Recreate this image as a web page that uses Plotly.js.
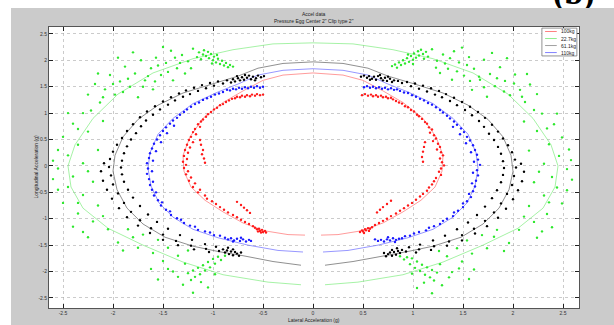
<!DOCTYPE html>
<html><head><meta charset="utf-8">
<script src="https://cdn.plot.ly/plotly-3.0.1.min.js"></script>
<style>
html,body{margin:0;padding:0;background:#fff;width:614px;height:325px;overflow:hidden;}
#panel{position:absolute;left:11px;top:8px;width:603px;height:317px;}
#lab{position:absolute;left:0;top:0;}
</style></head><body>
<svg id="lab" width="614" height="8"><text x="553" y="4" font-size="34" font-weight="bold" font-family="Liberation Serif, serif">(b)</text></svg>
<div id="panel"></div>
<script>
// ---- data (g units) ----
const seriesNames = ["100kg", "22.7kg", "61.1kg", "110kg"];
const xTicks = [-2.5, -2, -1.5, -1, -0.5, 0, 0.5, 1, 1.5, 2, 2.5];
const xTickLabels = ["-2.5", "-2", "-1.5", "-1", "-0.5", "0", "0.5", "1", "1.5", "2", "2.5"];
const yTicks = [-2.5, -2, -1.5, -1, -0.5, 0, 0.5, 1, 1.5, 2, 2.5];
const yTickLabels = ["-2.5", "-2", "-1.5", "-1", "-0.5", "0", "0.5", "1", "1.5", "2", "2.5"];

// fitted outlines (one per series), null = gap
const greenLine = [[0,2.33],[0.4,2.31],[0.8,2.2],[1.2,2.03],[1.6,1.76],[1.95,1.36],[2.2,0.9],[2.38,0.4],[2.45,0.0],[2.42,-0.4],[2.3,-0.8],[2.05,-1.18],[1.7,-1.5],[1.3,-1.82],[0.9,-2.06],[0.45,-2.2],[0.12,-2.25],[null,null],[-0.12,-2.25],[-0.45,-2.2],[-0.9,-2.06],[-1.3,-1.82],[-1.7,-1.5],[-2.05,-1.18],[-2.3,-0.8],[-2.42,-0.4],[-2.45,0.0],[-2.38,0.4],[-2.2,0.9],[-1.95,1.36],[-1.6,1.76],[-1.2,2.03],[-0.8,2.2],[-0.4,2.31],[0,2.33]];
const blackLine = [[0,1.97],[0.3,1.94],[0.55,1.85],[0.75,1.70],[1.0,1.56],[1.3,1.38],[1.55,1.15],[1.75,0.88],[1.9,0.55],[1.98,0.2],[2.0,-0.1],[1.96,-0.45],[1.86,-0.8],[1.7,-1.1],[1.48,-1.35],[1.2,-1.52],[0.95,-1.62],[0.7,-1.70],[0.4,-1.81],[0.12,-1.88],[null,null],[-0.12,-1.88],[-0.4,-1.81],[-0.7,-1.70],[-0.95,-1.62],[-1.2,-1.52],[-1.48,-1.35],[-1.7,-1.1],[-1.86,-0.8],[-1.96,-0.45],[-2.0,-0.1],[-1.98,0.2],[-1.9,0.55],[-1.75,0.88],[-1.55,1.15],[-1.3,1.38],[-1.0,1.56],[-0.75,1.70],[-0.55,1.85],[-0.3,1.94],[0,1.97]];
const blueLine = [[0,1.84],[0.3,1.81],[0.55,1.72],[0.75,1.55],[0.95,1.40],[1.2,1.18],[1.4,0.9],[1.55,0.6],[1.63,0.25],[1.65,-0.05],[1.62,-0.38],[1.54,-0.7],[1.4,-0.97],[1.2,-1.2],[0.95,-1.36],[0.65,-1.5],[0.35,-1.6],[0.1,-1.63],[null,null],[-0.1,-1.63],[-0.35,-1.6],[-0.65,-1.5],[-0.95,-1.36],[-1.2,-1.2],[-1.4,-0.97],[-1.54,-0.7],[-1.62,-0.38],[-1.65,-0.05],[-1.63,0.25],[-1.55,0.6],[-1.4,0.9],[-1.2,1.18],[-0.95,1.40],[-0.75,1.55],[-0.55,1.72],[-0.3,1.81],[0,1.84]];
const redLine = [[0,1.76],[0.3,1.72],[0.5,1.62],[0.7,1.42],[0.9,1.2],[1.1,0.9],[1.23,0.55],[1.3,0.2],[1.29,-0.1],[1.22,-0.4],[1.08,-0.65],[0.9,-0.87],[0.7,-1.08],[0.48,-1.23],[0.25,-1.3],[0.08,-1.31],[null,null],[-0.08,-1.31],[-0.25,-1.3],[-0.48,-1.23],[-0.7,-1.08],[-0.9,-0.87],[-1.08,-0.65],[-1.22,-0.4],[-1.29,-0.1],[-1.3,0.2],[-1.23,0.55],[-1.1,0.9],[-0.9,1.2],[-0.7,1.42],[-0.5,1.62],[-0.3,1.72],[0,1.76]];

// measured points, left and right clouds
const greenLeft = [[-0.80,1.88],[-0.83,1.91],[-0.85,1.87],[-0.87,1.95],[-0.89,1.90],[-0.91,1.99],[-0.93,1.93],[-0.95,2.03],[-0.97,1.96],[-0.99,2.07],[-1.00,2.00],[-1.02,2.12],[-1.04,2.04],[-1.05,2.16],[-1.07,2.08],[-1.09,2.19],[-1.10,2.11],[-1.12,2.02],[-1.14,2.15],[-1.16,2.06],[-0.96,2.10],[-1.01,1.94],
[-1.20,2.22],[-1.25,1.98],[-1.31,2.10],[-1.36,1.85],[-1.42,2.18],[-1.47,1.95],[-1.52,1.72],[-1.57,2.05],[-1.62,1.85],[-1.68,1.62],[-1.72,2.00],[-1.78,1.75],[-1.83,1.50],[-1.88,1.88],[-1.93,1.60],[-1.98,1.35],[-2.03,1.72],[-2.08,1.45],[-2.13,1.20],[-2.18,1.55],[-2.22,1.05],[-1.40,1.62],[-1.60,1.45],[-1.75,1.30],[-1.28,1.75],[-1.50,2.25],[-1.95,2.05],
[-1.22,1.85],[-1.33,1.95],[-1.45,1.78],[-1.55,1.90],[-1.65,1.70],[-1.70,1.50],[-1.85,1.65],[-1.90,1.40],[-2.00,1.55],[-2.10,1.30],[-2.15,1.75],[-2.25,1.35],[-1.38,2.05],[-1.80,2.15],[-1.58,1.60],
[-2.30,1.00],[-2.40,0.80],[-2.25,0.65],[-2.50,0.55],[-2.35,0.40],[-2.15,0.30],[-2.45,0.20],[-2.30,0.05],[-2.55,-0.05],[-2.40,-0.20],[-2.20,-0.30],[-2.45,-0.40],[-2.30,-0.55],[-2.50,-0.70],[-2.15,-0.75],[-2.35,-0.90],[-2.20,-1.05],[-2.40,-1.15],[-2.05,-1.20],[-2.25,-1.35],[-1.95,-1.45],[-2.60,0.10],[-2.10,0.85],[-2.55,-0.45],
[-2.45,1.00],[-2.35,0.70],[-2.55,0.30],[-2.25,-0.10],[-2.60,-0.25],[-2.35,-0.70],[-2.10,-0.95],[-2.30,-1.25],[-1.90,-1.60],[-1.80,-1.35],
[-0.88,-1.70],[-0.92,-1.78],[-0.95,-1.72],[-0.98,-1.85],[-1.00,-1.76],[-1.03,-1.92],[-1.05,-1.82],[-1.08,-1.98],[-1.10,-1.88],[-1.13,-2.05],[-1.15,-1.93],[-1.18,-2.10],[-1.20,-1.98],[-1.22,-2.16],[-1.25,-2.03],[-1.12,-2.20],[-1.28,-1.85],[-1.35,-1.70],[-1.40,-2.00],[-1.45,-1.55],[-1.50,-1.80],[-1.55,-1.40],[-1.60,-1.65],[-1.30,-2.25],[-1.05,-2.30],[-1.70,-1.30],[-1.75,-1.55],[-1.85,-1.20],[-1.62,-1.95],[-1.20,-2.40],
[-1.45,-1.95],[-1.35,-2.10],[-1.55,-2.15],[-0.98,-2.05],[-1.25,-1.60]];
const greenRight = [[0.79,1.89],[0.82,1.92],[0.84,1.86],[0.86,1.96],[0.88,1.91],[0.90,2.00],[0.92,1.94],[0.94,2.04],[0.96,1.97],[0.98,2.08],[1.00,2.01],[1.01,2.13],[1.03,2.05],[1.05,2.17],[1.06,2.09],[1.08,2.20],[1.10,2.12],[1.11,2.03],[1.13,2.16],[1.15,2.07],[0.95,2.11],[1.00,1.93],
[1.19,2.21],[1.24,1.99],[1.30,2.11],[1.35,1.84],[1.41,2.17],[1.46,1.96],[1.51,1.71],[1.56,2.06],[1.61,1.84],[1.67,1.63],[1.71,2.01],[1.77,1.74],[1.82,1.51],[1.87,1.87],[1.92,1.61],[1.97,1.34],[2.02,1.73],[2.07,1.44],[2.12,1.21],[2.17,1.54],[2.21,1.06],[1.39,1.63],[1.59,1.44],[1.74,1.31],[1.27,1.76],[1.49,2.24],[1.94,2.04],
[1.23,1.86],[1.32,1.94],[1.44,1.79],[1.54,1.91],[1.66,1.69],[1.71,1.49],[1.84,1.66],[1.91,1.41],[2.01,1.56],[2.09,1.31],[2.14,1.74],[2.24,1.36],[1.37,2.04],[1.79,2.14],[1.57,1.61],
[2.29,0.99],[2.41,0.79],[2.24,0.66],[2.49,0.54],[2.36,0.41],[2.16,0.29],[2.46,0.19],[2.31,0.04],[2.54,-0.06],[2.39,-0.21],[2.21,-0.31],[2.44,-0.41],[2.31,-0.56],[2.49,-0.71],[2.16,-0.76],[2.34,-0.91],[2.21,-1.06],[2.39,-1.16],[2.06,-1.21],[2.24,-1.36],[1.96,-1.46],[2.58,0.11],[2.11,0.84],[2.54,-0.46],
[2.44,0.99],[2.34,0.71],[2.56,0.31],[2.26,-0.11],[2.59,-0.26],[2.36,-0.69],[2.11,-0.96],[2.29,-1.24],[1.91,-1.61],[1.81,-1.34],
[0.87,-1.71],[0.91,-1.77],[0.94,-1.73],[0.97,-1.86],[0.99,-1.75],[1.02,-1.93],[1.04,-1.81],[1.07,-1.99],[1.09,-1.87],[1.12,-2.06],[1.14,-1.92],[1.17,-2.11],[1.19,-1.97],[1.21,-2.17],[1.24,-2.02],[1.11,-2.21],[1.27,-1.86],[1.34,-1.71],[1.39,-2.01],[1.44,-1.56],[1.49,-1.81],[1.54,-1.41],[1.59,-1.66],[1.29,-2.26],[1.04,-2.31],[1.69,-1.31],[1.74,-1.56],[1.84,-1.21],[1.61,-1.96],[1.19,-2.41],
[1.46,-1.94],[1.36,-2.11],[1.56,-2.14],[0.99,-2.04],[1.26,-1.61]];

const blackLeft = [[-0.49,1.70],[-0.52,1.68],[-0.55,1.71],[-0.57,1.66],[-0.60,1.69],[-0.62,1.64],[-0.64,1.71],[-0.66,1.67],[-0.69,1.63],[-0.71,1.68],[-0.73,1.62],[-0.75,1.66],[-0.78,1.60],[-0.80,1.64],[-0.82,1.58],[-0.58,1.62],[-0.68,1.72],[-0.76,1.70],
[-0.86,1.62],[-0.90,1.56],[-0.95,1.60],[-0.99,1.52],[-1.03,1.57],[-1.07,1.47],[-1.11,1.53],[-1.15,1.42],[-1.19,1.48],[-1.23,1.36],[-1.27,1.43],[-1.30,1.31],[-1.34,1.37],[-1.38,1.24],[-1.42,1.30],[-1.45,1.16],[-1.50,1.22],[-1.53,1.07],[-1.58,1.13],[-1.60,0.97],[-1.66,1.03],[-1.67,0.86],[-1.73,0.92],[-1.72,0.75],[-1.80,0.79],[-1.77,0.62],[-1.86,0.66],[-1.82,0.50],[-1.91,0.53],[-1.86,0.37],[-1.96,0.40],[-1.89,0.24],[-2.00,0.27],[-1.91,0.10],[-2.03,0.13],[-2.09,0.05],[-1.92,-0.03],[-2.04,-0.02],[-2.12,-0.10],[-1.91,-0.16],[-2.02,-0.18],[-2.10,-0.28],[-1.89,-0.30],[-2.00,-0.35],[-2.06,-0.45],[-1.85,-0.45],[-1.95,-0.52],[-2.01,-0.62],[-1.80,-0.60],[-1.89,-0.70],[-1.94,-0.80],[-1.73,-0.76],[-1.82,-0.87],[-1.86,-0.97],[-1.65,-0.92],[-1.73,-1.03],[-1.75,-1.13],[-1.56,-1.06],[-1.62,-1.18],[-1.63,-1.27],[-1.45,-1.19],[-1.50,-1.30],[-1.50,-1.40],[-1.33,-1.31],[-1.37,-1.42],[-1.35,-1.50],[-1.21,-1.40],[-1.22,-1.51],[-1.19,-1.58],[-1.08,-1.48],[-1.07,-1.57],[-1.04,-1.63],[-0.97,-1.53],[-0.94,-1.61],
[-0.90,-1.58],[-0.88,-1.64],[-0.86,-1.60],[-0.84,-1.67],[-0.82,-1.62],[-0.80,-1.69],[-0.78,-1.63],[-0.76,-1.66],[-0.74,-1.70],[-0.72,-1.64],[-0.85,-1.55],[-0.80,-1.58]];
const blackRight = [[0.48,1.69],[0.51,1.71],[0.54,1.67],[0.56,1.70],[0.59,1.65],[0.61,1.69],[0.63,1.63],[0.65,1.70],[0.68,1.66],[0.70,1.62],[0.72,1.67],[0.74,1.61],[0.77,1.65],[0.79,1.59],[0.81,1.62],[0.57,1.63],[0.67,1.72],[0.75,1.69],
[0.85,1.61],[0.89,1.57],[0.94,1.59],[0.98,1.51],[1.02,1.56],[1.06,1.46],[1.10,1.52],[1.14,1.41],[1.18,1.47],[1.22,1.35],[1.26,1.42],[1.29,1.30],[1.33,1.36],[1.37,1.23],[1.41,1.29],[1.44,1.15],[1.49,1.21],[1.52,1.06],[1.57,1.12],[1.59,0.96],[1.65,1.02],[1.66,0.85],[1.72,0.91],[1.71,0.74],[1.79,0.78],[1.76,0.61],[1.85,0.65],[1.81,0.49],[1.90,0.52],[1.85,0.36],[1.95,0.39],[1.88,0.23],[1.99,0.26],[1.90,0.09],[2.02,0.12],[2.08,0.04],[1.91,-0.04],[2.03,-0.03],[2.11,-0.11],[1.90,-0.17],[2.01,-0.19],[2.09,-0.29],[1.88,-0.31],[1.99,-0.36],[2.05,-0.46],[1.84,-0.46],[1.94,-0.53],[2.00,-0.63],[1.79,-0.61],[1.88,-0.71],[1.93,-0.81],[1.72,-0.77],[1.81,-0.88],[1.85,-0.98],[1.64,-0.93],[1.72,-1.04],[1.74,-1.14],[1.55,-1.07],[1.61,-1.19],[1.62,-1.28],[1.44,-1.20],[1.49,-1.31],[1.49,-1.41],[1.32,-1.32],[1.36,-1.43],[1.34,-1.51],[1.20,-1.41],[1.21,-1.52],[1.18,-1.59],[1.07,-1.49],[1.06,-1.58],[1.03,-1.64],[0.96,-1.54],[0.93,-1.62],
[0.89,-1.59],[0.87,-1.65],[0.85,-1.61],[0.83,-1.68],[0.81,-1.63],[0.79,-1.70],[0.77,-1.64],[0.75,-1.67],[0.73,-1.71],[0.71,-1.65],[0.84,-1.56],[0.79,-1.59]];

const blueLeft = [[-0.50,1.50],[-0.53,1.48],[-0.56,1.51],[-0.59,1.48],[-0.62,1.50],[-0.65,1.47],[-0.68,1.49],[-0.71,1.46],[-0.74,1.48],[-0.77,1.45],[-0.80,1.46],[-0.83,1.43],[-0.86,1.44],
[-0.90,1.40],[-0.94,1.37],[-0.98,1.35],[-1.02,1.31],[-1.06,1.28],[-1.10,1.25],[-1.14,1.20],[-1.18,1.17],[-1.22,1.12],[-1.26,1.07],[-1.29,1.02],[-1.33,0.97],[-1.36,0.91],[-1.40,0.86],[-1.43,0.80],[-1.39,0.76],[-1.47,0.73],[-1.50,0.66],[-1.46,0.62],[-1.53,0.58],[-1.56,0.50],[-1.52,0.45],[-1.59,0.42],[-1.61,0.33],[-1.57,0.28],[-1.63,0.24],[-1.64,0.15],[-1.60,0.10],[-1.66,0.05],[-1.65,-0.05],[-1.61,-0.10],[-1.66,-0.15],[-1.64,-0.25],[-1.60,-0.30],[-1.63,-0.36],[-1.61,-0.45],[-1.57,-0.50],[-1.59,-0.56],[-1.55,-0.65],[-1.51,-0.69],[-1.52,-0.75],[-1.47,-0.83],[-1.43,-0.86],[-1.42,-0.93],[-1.36,-0.99],[-1.32,-1.02],[-1.29,-1.08],[-1.23,-1.13],[-1.18,-1.15],[-1.15,-1.21],[-1.08,-1.24],[-1.03,-1.26],[-0.99,-1.31],[-0.93,-1.32],
[-0.88,-1.36],[-0.85,-1.39],[-0.82,-1.37],[-0.79,-1.41],[-0.76,-1.38],[-0.73,-1.42],[-0.70,-1.39],[-0.67,-1.43],[-0.64,-1.40],[-0.62,-1.42],[-0.72,-1.36],[-0.80,-1.43]];
const blueRight = [[0.51,1.49],[0.54,1.51],[0.57,1.48],[0.60,1.50],[0.63,1.47],[0.66,1.49],[0.69,1.46],[0.72,1.48],[0.75,1.45],[0.78,1.47],[0.81,1.44],[0.84,1.45],[0.87,1.42],
[0.91,1.39],[0.95,1.38],[0.99,1.34],[1.03,1.31],[1.07,1.27],[1.11,1.24],[1.15,1.19],[1.19,1.16],[1.23,1.11],[1.27,1.06],[1.30,1.01],[1.34,0.95],[1.37,0.90],[1.41,0.84],[1.44,0.78],[1.40,0.74],[1.48,0.71],[1.51,0.64],[1.47,0.60],[1.54,0.55],[1.57,0.48],[1.53,0.43],[1.60,0.39],[1.62,0.30],[1.58,0.26],[1.64,0.21],[1.65,0.12],[1.61,0.08],[1.67,0.02],[1.64,-0.08],[1.60,-0.13],[1.65,-0.18],[1.63,-0.28],[1.59,-0.33],[1.62,-0.39],[1.60,-0.48],[1.56,-0.53],[1.58,-0.59],[1.54,-0.67],[1.50,-0.71],[1.50,-0.78],[1.45,-0.85],[1.41,-0.88],[1.40,-0.95],[1.34,-1.00],[1.30,-1.04],[1.27,-1.10],[1.21,-1.14],[1.16,-1.17],[1.13,-1.22],[1.06,-1.25],[1.01,-1.28],[0.97,-1.32],[0.92,-1.33],
[0.89,-1.37],[0.86,-1.38],[0.83,-1.40],[0.80,-1.37],[0.77,-1.41],[0.74,-1.39],[0.71,-1.43],[0.68,-1.40],[0.65,-1.42],[0.62,-1.39],[0.75,-1.35],[0.82,-1.44]];

const redLeft = [[-0.50,1.35],[-0.53,1.34],[-0.56,1.36],[-0.58,1.33],[-0.61,1.35],[-0.63,1.32],[-0.66,1.34],[-0.68,1.31],[-0.71,1.33],[-0.73,1.30],[-0.76,1.31],[-0.78,1.28],[-0.81,1.27],
[-0.84,1.24],[-0.87,1.21],[-0.90,1.17],[-0.93,1.15],[-0.96,1.10],[-0.99,1.07],[-1.02,1.02],[-1.05,0.98],[-1.07,0.93],[-1.10,0.88],[-1.12,0.84],[-1.15,0.79],[-1.13,0.74],[-1.18,0.70],[-1.20,0.64],[-1.17,0.60],[-1.22,0.55],[-1.24,0.49],[-1.20,0.45],[-1.26,0.40],[-1.23,0.35],[-1.28,0.30],[-1.25,0.25],[-1.29,0.19],[-1.26,0.13],[-1.30,0.08],[-1.27,0.02],[-1.29,-0.04],[-1.25,-0.10],[-1.27,-0.16],[-1.22,-0.22],[-1.24,-0.28],[-1.18,-0.33],[-1.20,-0.40],[-1.13,-0.45],[-1.15,-0.50],[-1.08,-0.56],[-1.06,-0.62],[-1.01,-0.67],[-0.97,-0.72],[-0.93,-0.78],[-0.89,-0.83],[-0.85,-0.88],[-0.80,-0.93],[-0.76,-0.97],[-0.72,-1.02],[-0.68,-1.06],[-0.64,-1.10],[-0.60,-1.14],
[-0.58,-1.17],[-0.56,-1.20],[-0.54,-1.19],[-0.53,-1.23],[-0.51,-1.21],[-0.50,-1.25],[-0.48,-1.23],[-0.47,-1.26],[-0.52,-1.26],[-0.55,-1.24],
[-1.13,0.49],[-1.12,0.40],[-1.10,0.30],[-1.11,0.22],[-1.09,0.14],[-1.08,0.06],[-0.76,-0.68],[-0.72,-0.74],[-0.69,-0.79],[-0.66,-0.84],[-0.63,-0.89]];
const redRight = [[0.49,1.34],[0.52,1.36],[0.55,1.33],[0.58,1.35],[0.60,1.32],[0.63,1.34],[0.65,1.31],[0.68,1.33],[0.70,1.30],[0.73,1.31],[0.75,1.28],[0.78,1.29],[0.80,1.26],
[0.83,1.23],[0.86,1.20],[0.89,1.18],[0.92,1.13],[0.95,1.11],[0.98,1.06],[1.01,1.03],[1.04,0.97],[1.06,0.94],[1.09,0.89],[1.12,0.83],[1.14,0.80],[1.16,0.73],[1.19,0.69],[1.17,0.63],[1.21,0.58],[1.23,0.52],[1.20,0.47],[1.25,0.42],[1.27,0.36],[1.24,0.31],[1.28,0.26],[1.30,0.20],[1.27,0.14],[1.29,0.07],[1.31,0.01],[1.28,-0.05],[1.26,-0.11],[1.28,-0.17],[1.23,-0.23],[1.21,-0.29],[1.19,-0.35],[1.16,-0.41],[1.14,-0.47],[1.10,-0.53],[1.07,-0.58],[1.03,-0.64],[0.99,-0.70],[0.95,-0.75],[0.91,-0.80],[0.87,-0.85],[0.83,-0.90],[0.78,-0.95],[0.74,-1.00],[0.70,-1.04],[0.66,-1.08],[0.62,-1.12],
[0.59,-1.16],[0.57,-1.19],[0.55,-1.18],[0.53,-1.22],[0.52,-1.20],[0.50,-1.24],[0.49,-1.22],[0.47,-1.25],[0.51,-1.27],[0.56,-1.23],
[1.12,0.45],[1.11,0.36],[1.10,0.27],[1.09,0.17],[1.10,0.08],[0.78,-0.66],[0.74,-0.72],[0.70,-0.78],[0.67,-0.83],[0.64,-0.88]];

// ---- styles ----
const C = {red:"#ff1a1a", green:"#2ee82e", black:"#000000", blue:"#1a1aff"};
const LC = {red:"#ff7070", green:"#80ec80", black:"#606060", blue:"#6a6aff"};
const legendLineColors = ["#ff8080", "#90ee90", "#a0a0a0", "#8080ff"];

function xs(a){return a.map(p=>p[0]);}
function ys(a){return a.map(p=>p[1]);}
function lineTrace(a,col){return {type:"scatter",mode:"lines",x:xs(a),y:ys(a),line:{color:col,width:0.7},connectgaps:false,showlegend:false,hoverinfo:"skip"};}
function ptTrace(a,col){return {type:"scatter",mode:"markers",x:xs(a),y:ys(a),marker:{color:col,size:2.4,line:{width:0}},showlegend:false,hoverinfo:"skip"};}

const traces = [
  lineTrace(greenLine, LC.green), lineTrace(blackLine, LC.black), lineTrace(blueLine, LC.blue), lineTrace(redLine, LC.red),
  ptTrace(greenLeft, C.green), ptTrace(greenRight, C.green),
  ptTrace(blackLeft, C.black), ptTrace(blackRight, C.black),
  ptTrace(blueLeft, C.blue), ptTrace(blueRight, C.blue),
  ptTrace(redLeft, C.red), ptTrace(redRight, C.red)
];

// manual compact legend (MATLAB style box)
const L = {x0:0.930, x1:0.996, y0:0.897, y1:0.996};
const rowsY = [0.984, 0.959, 0.934, 0.909];
const shapes = [{type:"rect",xref:"paper",yref:"paper",x0:L.x0,x1:L.x1,y0:L.y0,y1:L.y1,fillcolor:"#ffffff",line:{color:"#777",width:0.8},layer:"above"}];
const annotations = [];
seriesNames.forEach((n,i)=>{
  shapes.push({type:"line",xref:"paper",yref:"paper",x0:0.936,x1:0.958,y0:rowsY[i],y1:rowsY[i],line:{color:legendLineColors[i],width:1},layer:"above"});
  annotations.push({xref:"paper",yref:"paper",x:0.962,y:rowsY[i],xanchor:"left",yanchor:"middle",text:n,showarrow:false,font:{size:5,color:"#222",family:"Liberation Sans, Arial"}});
});
annotations.push({xref:"paper",yref:"paper",x:0.5,y:1,yshift:13,xanchor:"center",yanchor:"middle",text:"Accel data",showarrow:false,font:{size:5,color:"#222",family:"Liberation Sans, Arial"}});
annotations.push({xref:"paper",yref:"paper",x:0.5,y:1,yshift:6,xanchor:"center",yanchor:"middle",text:"Pressure Egg Center 2\" Clip type 2\"",showarrow:false,font:{size:5,color:"#222",family:"Liberation Sans, Arial"}});
annotations.push({xref:"paper",yref:"paper",x:0.5,y:0,yshift:-12,xanchor:"center",yanchor:"middle",text:"Lateral Acceleration (g)",showarrow:false,font:{size:5,color:"#222",family:"Liberation Sans, Arial"}});
annotations.push({xref:"paper",yref:"paper",x:0,y:0.5,xshift:-14,xanchor:"center",yanchor:"middle",textangle:-90,text:"Longitudinal Acceleration (g)",showarrow:false,font:{size:5,color:"#222",family:"Liberation Sans, Arial"}});

const axCommon = {showgrid:true,gridcolor:"#a8a8a8",griddash:"dot",gridwidth:0.6,zeroline:false,showline:true,linecolor:"#555",linewidth:1,mirror:"ticks",ticks:"inside",ticklen:4,tickcolor:"#222",tickfont:{size:5,color:"#333",family:"Liberation Sans, Arial"}};
const layout = {
  width:603, height:317,
  margin:{l:38,r:35,t:19,b:17,pad:0},
  paper_bgcolor:"#cbcbcb", plot_bgcolor:"#ffffff",
  showlegend:false,
  xaxis:Object.assign({},axCommon,{range:[-2.64,2.66],tickvals:xTicks,ticktext:xTickLabels}),
  yaxis:Object.assign({},axCommon,{range:[-2.69,2.63],tickvals:yTicks,ticktext:yTickLabels}),
  shapes:shapes, annotations:annotations
};
Plotly.newPlot("panel", traces, layout, {staticPlot:true,displayModeBar:false});
</script></body></html>
